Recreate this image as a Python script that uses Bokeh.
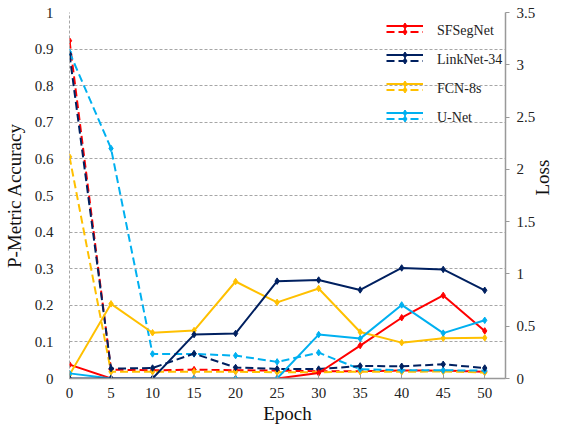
import math
from bokeh.plotting import figure
from bokeh.models import (Range1d, LinearAxis, FixedTicker, Legend, LegendItem,
                          NumeralTickFormatter, Label)
from bokeh.embed import file_html
from bokeh.resources import INLINE

epochs = [0, 5, 10, 15, 20, 25, 30, 35, 40, 45, 50]
models = ["SFSegNet", "LinkNet-34", "FCN-8s", "U-Net"]
colors = ["#FF0000", "#002060", "#FFC000", "#00B0F0"]

acc_sfsegnet = [0.038, 0, 0, 0, 0, 0, 0.015, 0.09, 0.166, 0.227, 0.13]
acc_linknet = [0, 0, 0, 0.12, 0.123, 0.266, 0.269, 0.242, 0.302, 0.298, 0.241]
acc_fcn = [0.01, 0.204, 0.125, 0.131, 0.265, 0.208, 0.246, 0.127, 0.098, 0.11, 0.111]
acc_unet = [0.014, 0, 0, 0, 0, 0, 0.12, 0.109, 0.201, 0.124, 0.159]

loss_sfsegnet = [3.23, 0.085, 0.078, 0.085, 0.079, 0.075, 0.07, 0.07, 0.076, 0.075, 0.065]
loss_linknet = [3.10, 0.095, 0.1, 0.238, 0.105, 0.092, 0.09, 0.12, 0.117, 0.136, 0.1]
loss_fcn = [2.12, 0.064, 0.064, 0.065, 0.064, 0.06, 0.06, 0.065, 0.064, 0.067, 0.057]
loss_unet = [3.12, 2.2, 0.235, 0.235, 0.219, 0.159, 0.247, 0.089, 0.079, 0.079, 0.075]

acc_ticks = [0, 0.1, 0.2, 0.3, 0.4, 0.5, 0.6, 0.7, 0.8, 0.9, 1]
loss_ticks = [0, 0.5, 1, 1.5, 2, 2.5, 3, 3.5]

FONT = "Liberation Serif"
GRID = "#a6a6a6"

p = figure(width=567, height=426, x_range=Range1d(0, 52.5), y_range=Range1d(0, 1),
           output_backend="svg", toolbar_location=None,
           min_border_left=68, min_border_right=62, min_border_top=12, min_border_bottom=46)
p.outline_line_color = None
p.xgrid.grid_line_color = None
p.ygrid.ticker = FixedTicker(ticks=acc_ticks)
p.ygrid.grid_line_color = GRID
p.ygrid.grid_line_dash = "3 2"
p.ygrid.grid_line_width = 1

p.extra_y_ranges = {"loss": Range1d(0, 3.5)}

# x axis
xa = p.xaxis[0]
xa.ticker = FixedTicker(ticks=epochs)
xa.axis_label = "Epoch"
xa.axis_line_color = "#999999"
xa.axis_line_width = 1.5
xa.major_tick_line_color = "#999999"
xa.major_tick_in = 4
xa.major_tick_out = 0
xa.minor_tick_line_color = None
xa.major_label_standoff = 9
xa.axis_label_standoff = 2

# left axis
ya = p.yaxis[0]
ya.ticker = FixedTicker(ticks=acc_ticks)
ya.formatter = NumeralTickFormatter(format="0.[0]")
ya.axis_label = "P-Metric Accuracy"
ya.axis_line_color = GRID
ya.axis_line_dash = "3 2"
ya.major_tick_line_color = None
ya.minor_tick_line_color = None
ya.major_label_standoff = 10
ya.axis_label_standoff = 7

# right axis
ra = LinearAxis(y_range_name="loss", ticker=FixedTicker(ticks=loss_ticks),
                formatter=NumeralTickFormatter(format="0.[0]"))
ra.axis_line_color = "#999999"
ra.axis_line_width = 1.5
ra.major_tick_line_color = "#999999"
ra.major_tick_in = 0
ra.major_tick_out = 4
ra.minor_tick_line_color = None
ra.major_label_standoff = 7
if hasattr(ra, "axis_label_orientation"):
    ra.axis_label = "Loss"
    ra.axis_label_orientation = math.pi / 2
    ra.axis_label_standoff = 4
p.add_layout(ra, "right")

for ax in [xa, ya, ra]:
    ax.major_label_text_font = FONT
    ax.major_label_text_font_size = "15px"
    ax.major_label_text_color = "#222222"
    ax.axis_label_text_font = FONT
    ax.axis_label_text_font_size = "19px"
    ax.axis_label_text_font_style = "normal"
    ax.axis_label_text_color = "#111111"

acc = [acc_sfsegnet, acc_linknet, acc_fcn, acc_unet]
loss = [loss_sfsegnet, loss_linknet, loss_fcn, loss_unet]

solid_r = {}
dash_r = {}
# dashed (loss) first
for i in [0, 2, 3, 1]:
    c = colors[i]
    l = p.line(epochs, loss[i], y_range_name="loss", line_color=c, line_width=2,
               line_dash="8 4")
    s = p.scatter(epochs, loss[i], y_range_name="loss", marker="diamond", size=6.5,
                  color=c)
    dash_r[i] = [l, s]
# solid (accuracy)
for i in [0, 2, 3, 1]:
    c = colors[i]
    l = p.line(epochs, acc[i], line_color=c, line_width=2)
    s = p.scatter(epochs, acc[i], marker="diamond", size=6.5, color=c)
    solid_r[i] = [l, s]

dummy = p.line(x=[], y=[], line_alpha=0)


def make_legend(items, vy, gh):
    lg = Legend(items=items, location=(317, vy), orientation="vertical",
                padding=0, margin=0, spacing=0, border_line_color=None,
                background_fill_alpha=0, glyph_width=37, glyph_height=gh,
                label_height=29, label_standoff=14,
                label_text_font=FONT, label_text_font_size="14px",
                label_text_color="#222222")
    p.add_layout(lg, "center")
    return lg


make_legend([LegendItem(label=" ", renderers=solid_r[i]) for i in range(4)], 251.5, 15)
make_legend([LegendItem(label=" ", renderers=dash_r[i]) for i in range(4)], 245.5, 15)
make_legend([LegendItem(label=models[i], renderers=[dummy]) for i in range(4)], 246.0, 29)

if not hasattr(ra, "axis_label_orientation"):
    p.add_layout(Label(x=548, y=190, x_units="screen", y_units="screen", text="Loss",
                       angle=math.pi / 2, text_font=FONT, text_font_size="19px",
                       text_align="center", text_baseline="middle"))

open("out.html", "w").write(file_html(p, INLINE))
